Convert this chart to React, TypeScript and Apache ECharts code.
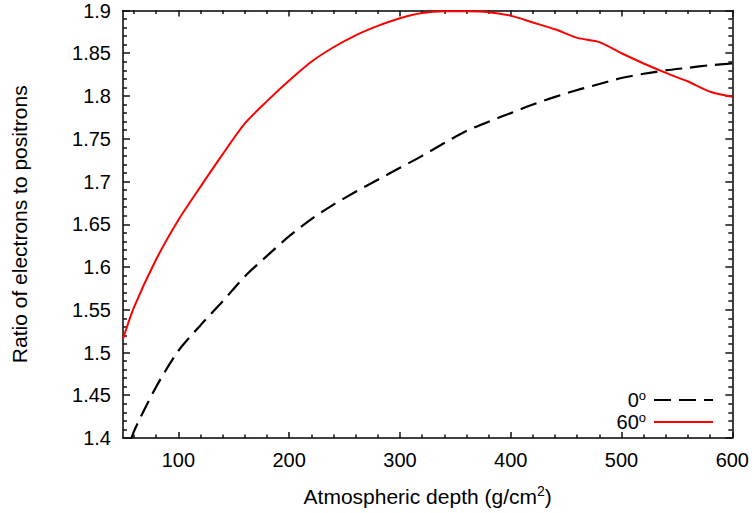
import React, { useEffect, useRef } from "react";
import * as echarts from "echarts";

const depth = [50, 60, 80, 100, 120, 140, 160, 180, 200, 220, 240, 260, 280, 300, 320, 340, 360, 380, 400, 420, 440, 460, 480, 500, 520, 540, 560, 580, 600];
const ratio0 = [1.371, 1.408, 1.460, 1.502, 1.532, 1.560, 1.589, 1.613, 1.636, 1.656, 1.673, 1.688, 1.702, 1.716, 1.730, 1.745, 1.759, 1.770, 1.780, 1.790, 1.799, 1.807, 1.814, 1.821, 1.826, 1.830, 1.833, 1.836, 1.838];
const ratio60 = [1.516, 1.553, 1.609, 1.655, 1.694, 1.732, 1.768, 1.794, 1.818, 1.840, 1.857, 1.871, 1.882, 1.891, 1.897, 1.899, 1.899, 1.898, 1.894, 1.886, 1.878, 1.868, 1.863, 1.850, 1.838, 1.827, 1.817, 1.805, 1.799];
const xMajor = [100, 200, 300, 400, 500, 600];
const xMinor = [60, 80, 120, 140, 160, 180, 220, 240, 260, 280, 320, 340, 360, 380, 420, 440, 460, 480, 520, 540, 560, 580];
const seriesNames = ["0", "60"];

const FONT = "'Liberation Sans', Arial, Helvetica, sans-serif";

export default function App() {
  const ref = useRef<HTMLDivElement>(null);
  useEffect(() => {
    if (!ref.current) return;
    const chart = echarts.init(ref.current, null, { renderer: "svg" });
    const mkLine = () => ({ show: true, onZero: false, lineStyle: { color: "#000", width: 1.5 } });
    const mkTick = (length: number, custom?: number[]) => {
      const t: any = { show: true, inside: true, length, lineStyle: { color: "#111", width: 1.5 } };
      if (custom) t.customValues = custom;
      return t;
    };
    const baseX = () => ({ type: "value" as const, min: 50, max: 600, splitLine: { show: false } });
    const baseY = () => ({
      type: "value" as const,
      min: 1.4,
      max: 1.9,
      interval: 0.05,
      splitLine: { show: false },
    });
    chart.setOption({
      animation: false,
      backgroundColor: "#fff",
      textStyle: { fontFamily: FONT },
      grid: { left: 123, right: 14, top: 10.5, bottom: 73.5 },
      legend: {
        orient: "vertical",
        right: 33,
        top: 384,
        align: "right",
        itemWidth: 59,
        itemHeight: 14,
        itemGap: 0,
        data: seriesNames,
        itemStyle: { opacity: 0 },
        formatter: (name: string) => `${name}{sup|o}`,
        textStyle: {
          fontFamily: FONT,
          fontSize: 20,
          color: "#000",
          lineHeight: 22,
          padding: [0, 3, 0, 0],
          rich: { sup: { fontSize: 13, lineHeight: 13, verticalAlign: "top", fontFamily: FONT, color: "#000" } },
        },
      },
      xAxis: [
        {
          ...baseX(),
          position: "bottom",
          axisLine: mkLine(),
          axisTick: mkTick(6, xMajor),
          axisLabel: { show: true, customValues: xMajor, fontSize: 20, color: "#000", margin: 12, fontFamily: FONT },
          name: "Atmospheric depth (g/cm{sup|2})",
          nameLocation: "middle",
          nameGap: 46,
          nameTextStyle: {
            fontSize: 21,
            color: "#000",
            fontFamily: FONT,
            lineHeight: 24,
            rich: { sup: { fontSize: 14, lineHeight: 14, verticalAlign: "top", fontFamily: FONT, color: "#000" } },
          },
        },
        {
          ...baseX(),
          position: "bottom",
          axisLine: { show: false, onZero: false },
          axisTick: mkTick(3.5, xMinor),
          axisLabel: { show: false },
        },
        {
          ...baseX(),
          position: "top",
          axisLine: mkLine(),
          axisTick: mkTick(6, xMajor),
          axisLabel: { show: false },
        },
        {
          ...baseX(),
          position: "top",
          axisLine: { show: false, onZero: false },
          axisTick: mkTick(3.5, xMinor),
          axisLabel: { show: false },
        },
      ],
      yAxis: [
        {
          ...baseY(),
          position: "left",
          axisLine: mkLine(),
          axisTick: mkTick(7),
          minorTick: { show: true, splitNumber: 5, length: 4, lineStyle: { color: "#111", width: 1.5 } },
          axisLabel: { show: true, fontSize: 20, color: "#000", margin: 12, fontFamily: FONT },
          name: "Ratio of electrons to positrons",
          nameLocation: "middle",
          nameGap: 93,
          nameTextStyle: { fontSize: 21, color: "#000", fontFamily: FONT },
        },
        {
          ...baseY(),
          position: "right",
          axisLine: mkLine(),
          axisTick: mkTick(7),
          minorTick: { show: true, splitNumber: 5, length: 4, lineStyle: { color: "#111", width: 1.5 } },
          axisLabel: { show: false },
        },
      ],
      series: [
        {
          name: seriesNames[0],
          type: "line",
          xAxisIndex: 0,
          yAxisIndex: 0,
          data: depth.map((d, i) => [d, ratio0[i]]),
          symbol: "none",
          smooth: 0.25,
          clip: true,
          lineStyle: { color: "#000", width: 2.2, type: [17, 8] },
          itemStyle: { color: "#000" },
        },
        {
          name: seriesNames[1],
          type: "line",
          xAxisIndex: 0,
          yAxisIndex: 0,
          data: depth.map((d, i) => [d, ratio60[i]]),
          symbol: "none",
          smooth: 0.25,
          clip: true,
          lineStyle: { color: "#ff0000", width: 2 },
          itemStyle: { color: "#ff0000" },
        },
      ],
    });
    return () => chart.dispose();
  }, []);
  return <div ref={ref} style={{ position: "absolute", left: 0, top: 0, width: 752, height: 513 }} />;
}
